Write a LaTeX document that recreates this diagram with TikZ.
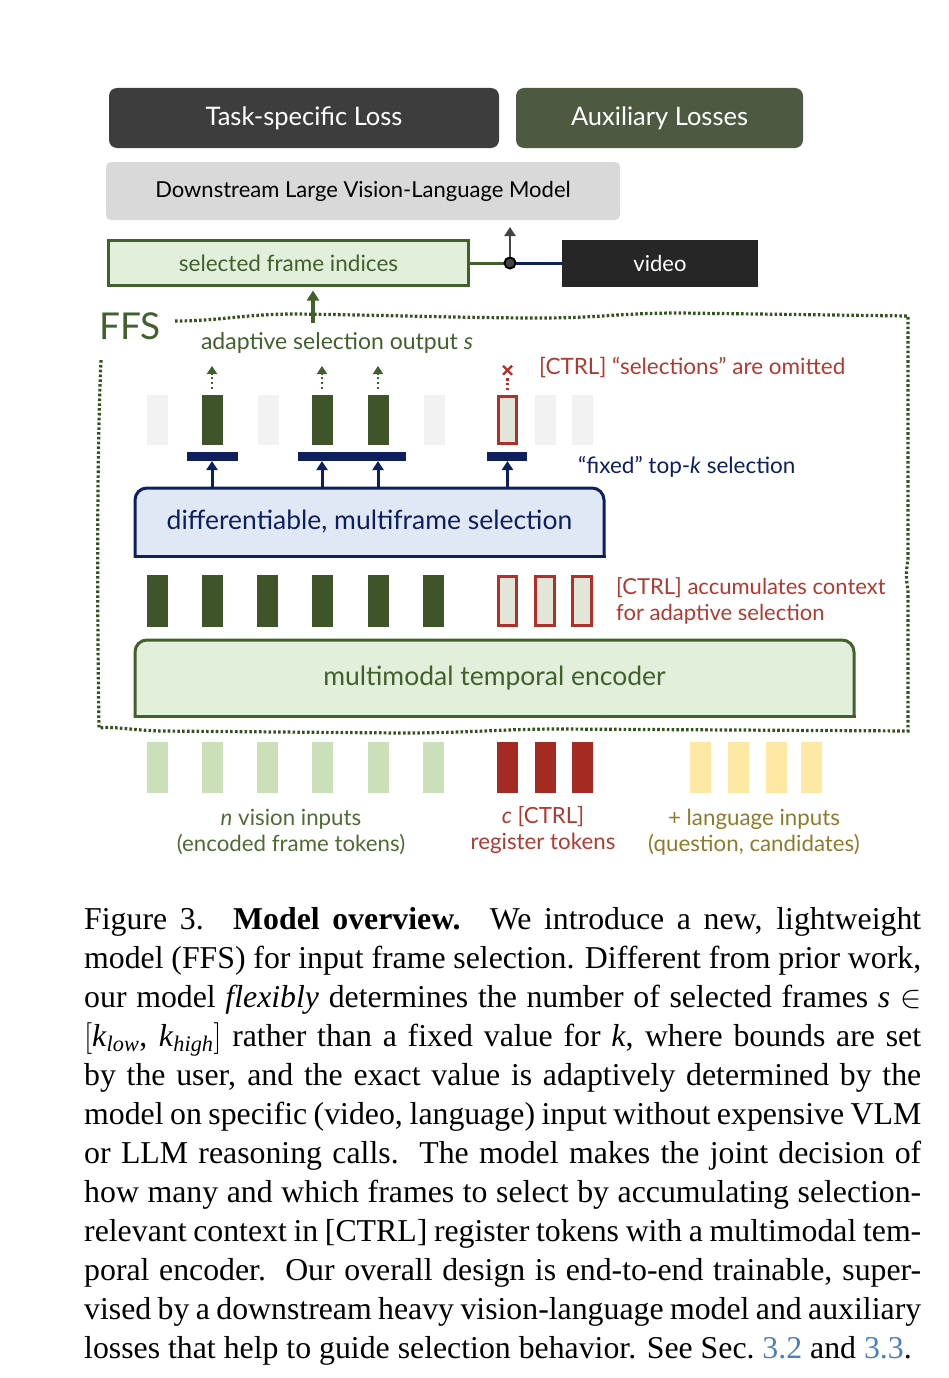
\RequirePackage{fix-cm}
\documentclass[tikz,border=0pt]{standalone}
\usepackage{fontspec}
\setmainfont{Liberation Serif}
\newfontfamily\dfont{Lato}
\usetikzlibrary{arrows.meta,backgrounds,calc}
\definecolor{cdark}{HTML}{3D3D3D}
\definecolor{colive}{HTML}{4D5A41}
\definecolor{clgray}{HTML}{D9D9D9}
\definecolor{cselfill}{HTML}{E2EFDA}
\definecolor{cgreen}{HTML}{41602B}
\definecolor{cvideo}{HTML}{262626}
\definecolor{cdot}{HTML}{34521F}
\definecolor{ctok}{HTML}{3F5428}
\definecolor{cfaint}{HTML}{F2F2F2}
\definecolor{cred}{HTML}{B0302A}
\definecolor{cctrlfill}{HTML}{E2E6D8}
\definecolor{cnavy}{HTML}{0D1F5C}
\definecolor{cdiff}{HTML}{DFE8F4}
\definecolor{ctred}{HTML}{B03A32}
\definecolor{clgreen}{HTML}{CBE0B9}
\definecolor{cdred}{HTML}{A52A22}
\definecolor{cyellow}{HTML}{FDE8A4}
\definecolor{clabgreen}{HTML}{4F6B35}
\definecolor{colivetext}{HTML}{8D7B2D}
\definecolor{clink}{HTML}{4A7FC0}
\definecolor{cjunc}{HTML}{444444}
\begin{document}
\begin{tikzpicture}[x=1pt,y=-1pt,
  box/.style={rectangle, inner sep=0pt, outer sep=0pt},
  dtext/.style={font=\dfont\fontsize{#1}{#1}\selectfont},
  tok/.style={rectangle, inner sep=0pt, outer sep=0pt, minimum width=21, minimum height=#1},
  gtok/.style={tok=50, fill=ctok},
  ftok/.style={tok=50, fill=cfaint},
  rtok/.style={rectangle, inner sep=0pt, outer sep=0pt, minimum width=18.5, minimum height=#1, draw=cred, line width=2.6pt, fill=cctrlfill},
  nbar/.style={rectangle, inner sep=0pt, outer sep=0pt, minimum height=9, fill=cnavy},
  arr/.style={line width=3pt, -{Triangle[width=11pt,length=9pt]}},
  dotarr/.style={line width=2.4pt, dash pattern=on 2.4pt off 2.4pt, -{Triangle[width=10pt,length=8pt]}},
  ffsdot/.style={draw=cdot, line width=3.2pt, dash pattern=on 2.6pt off 2.2pt},
  lab/.style={align=center, inner sep=0pt, font=\dfont\fontsize{22.3}{26}\selectfont},
]
\useasboundingbox (0,0) rectangle (948,1378);

% ---------- top boxes ----------
\node[box, fill=cdark, rounded corners=8pt, minimum width=390, minimum height=60, text=white, dtext=25.5] (task) at (304,118) {Task-specific Loss};
\node[box, fill=colive, rounded corners=8pt, minimum width=287, minimum height=60, text=white, dtext=25.5] (aux) at (659.5,118) {Auxiliary Losses};
\node[box, fill=clgray, rounded corners=5pt, minimum width=514, minimum height=58, text=black, dtext=22] (dlvm) at (363,191) {Downstream Large Vision-Language Model};
\node[box, fill=cselfill, draw=cgreen, line width=3pt, minimum width=360, minimum height=45, text=cgreen, dtext=22.5] (sel) at (288.5,263) {selected frame indices};
\node[box, fill=cvideo, minimum width=196, minimum height=47, text=white, dtext=22] (video) at (660,263) {video};

\coordinate (jc) at (510,263);
\draw[cgreen, line width=3pt] (sel.east) -- (jc);
\draw[cnavy, line width=3pt] (jc) -- (video.west);
\node[circle, fill=cjunc, draw=black, line width=2pt, minimum size=11pt, inner sep=0pt] (j) at (jc) {};
\draw[arr, cjunc, line width=2.8pt] (j.north) -- (j |- dlvm.south) [shorten >=7pt];

% ---------- FFS frame ----------
\node[text=cgreen, dtext=37, anchor=west, inner sep=0pt] (ffs) at (99,326) {FFS};
\draw[ffsdot] (175,321) .. controls (220,321) and (245,314) .. (295,314)
  .. controls (380,315) and (470,318) .. (540,318)
  .. controls (600,318) and (620,313) .. (680,313)
  -- (908,316) -- (908,560) .. controls (906,570) and (906,580) .. (908,590)
  -- (908,731) -- (560,729) .. controls (500,729) and (470,733) .. (400,733)
  -- (160,731) .. controls (130,730) and (112,726) .. (99,728)
  .. controls (97,600) and (97,450) .. (101,360);

\coordinate (selin) at (313,323);
\draw[arr, cgreen, line width=4pt, -{Triangle[width=12pt,length=10pt]}] (selin) -- (sel.south -| selin) [shorten >=5pt];

\node[text=cgreen, dtext=23, inner sep=0pt] (adapt) at (337,343) {adaptive selection output \textit{s}};
\node[text=ctred, dtext=22.5, anchor=west, inner sep=0pt] (omit) at (539,367) {[CTRL] “selections” are omitted};

% ---------- top token row ----------
\node[ftok] (f1) at (157.5,420) {};
\node[gtok] (s1) at (212,420) {};
\node[ftok] (f2) at (268,420) {};
\node[gtok] (s2) at (322,420) {};
\node[gtok] (s3) at (378,420) {};
\node[ftok] (f3) at (434,420) {};
\node[rtok=47.5] (r1) at (507.5,420) {};
\node[ftok] (f4) at (545,420) {};
\node[ftok] (f5) at (582,420) {};

\foreach \t in {s1,s2,s3}{
  \draw[dotarr, cgreen] ([yshift=6pt]\t.north) -- ([yshift=29pt]\t.north);
}
\draw[cred, line width=2.4pt, dash pattern=on 2.4pt off 2.4pt] ([yshift=6pt]r1.north) -- ([yshift=18pt]r1.north);
\coordinate (xc) at ([yshift=26pt]r1.north);
\draw[cred, line width=2.2pt] ($(xc)+(-4.5,-4.5)$) -- ($(xc)+(4.5,4.5)$) ($(xc)+(-4.5,4.5)$) -- ($(xc)+(4.5,-4.5)$);

\node[nbar, minimum width=51] (bA) at (212.5,456.5) {};
\node[nbar, minimum width=108] (bB) at (352,456.5) {};
\node[nbar, minimum width=40] (bC) at (507,456.5) {};

\node[text=cnavy, dtext=22.5, anchor=west, inner sep=0pt] (fixed) at (578,467) {“fixed” top-\textit{k} selection};

% ---------- differentiable selection box ----------
\node[box, minimum width=469, minimum height=68, text=cnavy, dtext=26.5] (diff) at (369.5,522) {differentiable, multiframe selection};
\begin{scope}[on background layer]
  \fill[cdiff, rounded corners=12pt] (diff.south west) -- (diff.north west) -- (diff.north east) -- (diff.south east);
  \draw[cnavy, line width=3pt, rounded corners=12pt, line cap=rect] (diff.south west) -- (diff.north west) -- (diff.north east) -- (diff.south east);
  \draw[cnavy, line width=3pt, line cap=rect] (diff.south west) -- (diff.south east);
\end{scope}
\draw[arr, cnavy] (diff.north -| s1) -- (bA.south -| s1);
\draw[arr, cnavy] (diff.north -| s2) -- (bB.south -| s2);
\draw[arr, cnavy] (diff.north -| s3) -- (bB.south -| s3);
\draw[arr, cnavy] (diff.north -| r1) -- (bC.south -| r1);

% ---------- middle token row ----------
\node[tok=52, fill=ctok] (m1) at (157.5,601) {};
\node[tok=52, fill=ctok] (m2) at (212,601) {};
\node[tok=52, fill=ctok] (m3) at (267.5,601) {};
\node[tok=52, fill=ctok] (m4) at (322,601) {};
\node[tok=52, fill=ctok] (m5) at (378,601) {};
\node[tok=52, fill=ctok] (m6) at (433.5,601) {};
\node[rtok=49.5] (mc1) at (507.5,601) {};
\node[rtok=49.5] (mc2) at (545,601) {};
\node[rtok=49.5] (mc3) at (582,601) {};
\node[text=ctred, anchor=west, align=left, inner sep=0pt, font=\dfont\fontsize{22}{26}\selectfont] (accum) at (616,601) {[CTRL] accumulates context\\for adaptive selection};

% ---------- encoder box ----------
\node[box, minimum width=719, minimum height=76, text=cgreen, dtext=26.5] (enc) at (494.5,678) {multimodal temporal encoder};
\begin{scope}[on background layer]
  \fill[cselfill, rounded corners=12pt] (enc.south west) -- (enc.north west) -- (enc.north east) -- (enc.south east);
  \draw[cgreen, line width=3pt, rounded corners=12pt, line cap=rect] (enc.south west) -- (enc.north west) -- (enc.north east) -- (enc.south east);
  \draw[cgreen, line width=3pt, line cap=rect] (enc.south west) -- (enc.south east);
\end{scope}

% ---------- input token row ----------
\foreach \x [count=\i] in {157.5,212,267.5,322,378,433.5}{
  \node[tok=51, fill=clgreen] (v\i) at (\x,767.5) {};
}
\foreach \x [count=\i] in {507.5,545,582}{
  \node[tok=51, fill=cdred] (c\i) at (\x,767.5) {};
}
\foreach \x [count=\i] in {700,738.5,776,811}{
  \node[tok=51, fill=cyellow] (l\i) at (\x,767.5) {};
}

\node[lab, text=clabgreen] (vlab) at (291,832) {\textit{n} vision inputs\\(encoded frame tokens)};
\node[lab, text=ctred] (clab) at (543,830) {\textit{c} [CTRL]\\register tokens};
\node[lab, text=colivetext] (llab) at (754,832) {+ language inputs\\(question, candidates)};

% ---------- caption ----------
\node[anchor=north west, inner sep=0pt, text width=837pt, align=justify, font=\fontsize{31.8}{39}\selectfont] (cap) at (84,907) {%
\spaceskip=0.25em plus 0.35em minus 0.12em
Figure 3.\hspace{0.15em} \textbf{Model overview.}\hspace{0.15em} We introduce a new, lightweight\linebreak
model (FFS) for input frame selection. Different from prior work,\linebreak
our model \textit{flexibly} determines the number of selected frames \textit{s} $\in$\linebreak
$\big[$\textit{k}\textsubscript{\textit{low}}, \textit{k}\textsubscript{\textit{high}}$\big]$ rather than a fixed value for \textit{k}, where bounds are set\linebreak
by the user, and the exact value is adaptively determined by the\linebreak
model on specific (video, language) input without expensive VLM\linebreak
or LLM reasoning calls.\ \ The model makes the joint decision of\linebreak
how many and which frames to select by accumulating selection-\linebreak
relevant context in [CTRL] register tokens with a multimodal tem-\linebreak
poral encoder.\ \ Our overall design is end-to-end trainable, super-\linebreak
vised by a downstream heavy vision-language model and auxiliary\linebreak
losses that help to guide selection behavior. See Sec.\ {\color{clink}3.2} and {\color{clink}3.3}.};
\end{tikzpicture}
\end{document}
